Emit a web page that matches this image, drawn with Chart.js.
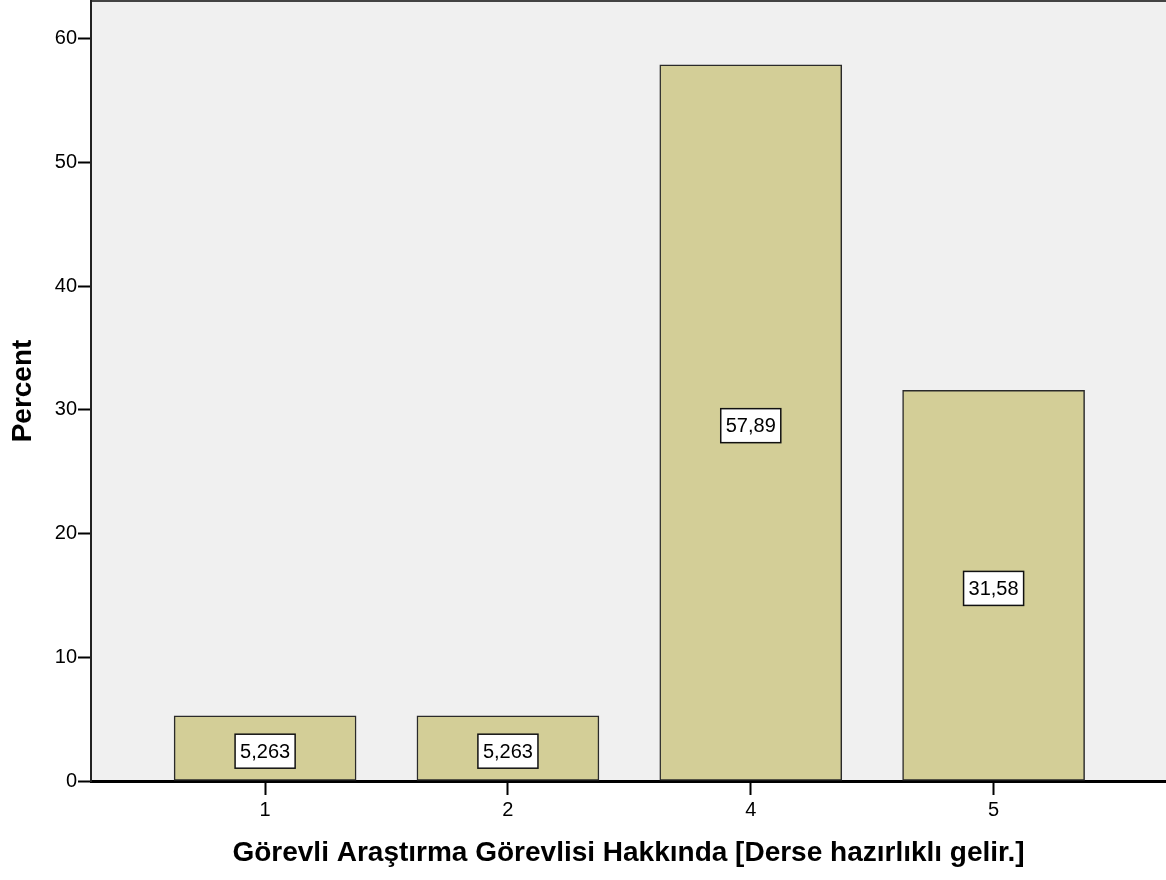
<!DOCTYPE html>
<html>
<head>
<meta charset="utf-8">
<script src="https://cdn.jsdelivr.net/npm/chart.js@4.4.0/dist/chart.umd.min.js"></script>
<style>
    html, body { margin: 0; padding: 0; background: #ffffff; }
</style>
</head>
<body>
<canvas id="graphique" width="1166" height="880"></canvas>
<script>
/********************/
/* Données globales */
/********************/
var categories = ['1', '2', '4', '5'];
var pourcentages = [5.263, 5.263, 57.89, 31.58];
var etiquettes = ['5,263', '5,263', '57,89', '31,58'];
var ticksY = [0, 10, 20, 30, 40, 50, 60];
var titreX = 'Görevli Araştırma Görevlisi Hakkında [Derse hazırlıklı gelir.]';
var titreY = 'Percent';

var police = '"Liberation Sans", Arial, sans-serif';

//Fond gris de la zone de tracé + bordure du haut
var fondZone = {
    id: 'fondZone',
    beforeDraw: function(chart) {
        var ctx = chart.ctx, a = chart.chartArea;
        ctx.save();
        ctx.fillStyle = '#f0f0f0';
        ctx.fillRect(a.left, a.top, a.right - a.left, a.bottom - a.top);
        ctx.strokeStyle = '#444444';
        ctx.lineWidth = 2;
        ctx.beginPath();
        ctx.moveTo(a.left, a.top);
        ctx.lineTo(a.right, a.top);
        ctx.stroke();
        ctx.restore();
    }
};

//Etiquettes encadrées au milieu des barres
var etiquettesBarres = {
    id: 'etiquettesBarres',
    afterDatasetsDraw: function(chart) {
        var ctx = chart.ctx;
        var meta = chart.getDatasetMeta(0);
        ctx.save();
        ctx.font = '20px ' + police;
        ctx.textAlign = 'center';
        ctx.textBaseline = 'middle';
        meta.data.forEach(function(barre, i) {
            var texte = etiquettes[i];
            var cx = barre.x;
            var cy = (barre.y + barre.base) / 2 + 3;
            var w = ctx.measureText(texte).width + 10;
            var h = 34;
            ctx.fillStyle = '#ffffff';
            ctx.fillRect(cx - w / 2, cy - h / 2, w, h);
            ctx.strokeStyle = '#111111';
            ctx.lineWidth = 1.5;
            ctx.strokeRect(cx - w / 2, cy - h / 2, w, h);
            ctx.fillStyle = '#000000';
            ctx.fillText(texte, cx, cy + 1);
        });
        ctx.restore();
    }
};

//Titres des axes
var titresAxes = {
    id: 'titresAxes',
    afterDraw: function(chart) {
        var ctx = chart.ctx, a = chart.chartArea;
        ctx.save();
        ctx.font = 'bold 28px ' + police;
        ctx.fillStyle = '#000000';
        ctx.textAlign = 'center';
        ctx.textBaseline = 'middle';
        ctx.fillText(titreX, (a.left + a.right) / 2, 853);
        ctx.translate(23, (a.top + a.bottom) / 2);
        ctx.rotate(-Math.PI / 2);
        ctx.fillText(titreY, 0, 0);
        ctx.restore();
    }
};

var ctx = document.getElementById('graphique').getContext('2d');
var graphique = new Chart(ctx, {
    type: 'bar',
    data: {
        datasets: [{
            label: 'Percent',
            data: pourcentages.map(function(v, i) { return { x: i, y: v }; }),
            backgroundColor: '#d3ce97',
            borderColor: '#2a2a2a',
            borderWidth: 1.5,
            borderSkipped: false,
            barThickness: 182
        }]
    },
    options: {
        responsive: false,
        animation: false,
        devicePixelRatio: 1,
        layout: { padding: { top: 1, left: 0, right: 0, bottom: 0 } },
        plugins: {
            legend: { display: false },
            tooltip: { enabled: false }
        },
        scales: {
            x: {
                type: 'linear',
                offset: false,
                min: -0.717,
                max: 3.71,
                afterBuildTicks: function(s) {
                    s.ticks = categories.map(function(c, i) { return { value: i }; });
                },
                afterFit: function(s) {
                    s.height = 99;
                    s.paddingLeft = 0;
                    s.paddingRight = 0;
                },
                ticks: {
                    callback: function(v) { return categories[v]; },
                    font: { family: police, size: 20 },
                    color: '#000000',
                    padding: 3,
                    maxRotation: 0,
                    autoSkip: false
                },
                grid: {
                    offset: false,
                    drawOnChartArea: false,
                    tickLength: 14,
                    tickColor: '#000000',
                    tickWidth: 2
                },
                border: { color: '#000000', width: 3 }
            },
            y: {
                min: 0,
                max: 63.05,
                afterBuildTicks: function(s) {
                    s.ticks = ticksY.map(function(v) { return { value: v }; });
                },
                afterFit: function(s) {
                    s.width = 91;
                    s.paddingTop = 0;
                    s.paddingBottom = 0;
                },
                ticks: {
                    font: { family: police, size: 20 },
                    color: '#000000',
                    padding: 1
                },
                grid: {
                    drawOnChartArea: false,
                    tickLength: 13,
                    tickColor: '#000000',
                    tickWidth: 2
                },
                border: { color: '#222222', width: 2 }
            }
        }
    },
    plugins: [fondZone, etiquettesBarres, titresAxes]
});
</script>
</body>
</html>
